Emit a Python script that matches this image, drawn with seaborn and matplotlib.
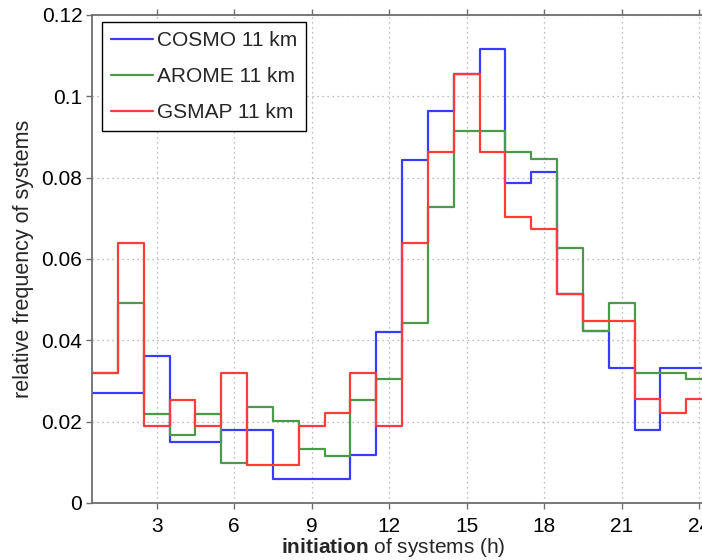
import numpy as np
import pandas as pd
import seaborn as sns
import matplotlib.pyplot as plt
from matplotlib.lines import Line2D

# Hour of initiation (bin centres, 1 h bins)
hours = np.arange(1, 25)

# Relative frequency of initiated systems per hour
cosmo = [0.0271, 0.0271, 0.0361, 0.0149, 0.0149, 0.0179, 0.0179, 0.0060,
         0.0060, 0.0060, 0.0118, 0.0421, 0.0843, 0.0965, 0.1056, 0.1116,
         0.0786, 0.0813, 0.0513, 0.0423, 0.0331, 0.0179, 0.0331, 0.0331]
arome = [0.0319, 0.0491, 0.0219, 0.0167, 0.0219, 0.0099, 0.0235, 0.0202,
         0.0134, 0.0116, 0.0253, 0.0304, 0.0442, 0.0729, 0.0915, 0.0915,
         0.0864, 0.0847, 0.0626, 0.0423, 0.0491, 0.0320, 0.0320, 0.0304]
gsmap = [0.0319, 0.0639, 0.0190, 0.0254, 0.0190, 0.0319, 0.0093, 0.0093,
         0.0190, 0.0222, 0.0319, 0.0190, 0.0640, 0.0864, 0.1056, 0.0864,
         0.0704, 0.0673, 0.0513, 0.0448, 0.0448, 0.0255, 0.0222, 0.0255]

labels = ["COSMO 11 km", "AROME 11 km", "GSMAP 11 km"]
colors = ["#3b3bff", "#4a9a4a", "#ff3b3b"]

xticks = [3, 6, 9, 12, 15, 18, 21, 24]
yticks = [0, 0.02, 0.04, 0.06, 0.08, 0.1, 0.12]
ytick_labels = ["0", "0.02", "0.04", "0.06", "0.08", "0.1", "0.12"]

sns.set_theme(style="white")
plt.rcParams["font.family"] = ["Liberation Sans", "DejaVu Sans"]
plt.rcParams["mathtext.fontset"] = "custom"
plt.rcParams["mathtext.rm"] = "Liberation Sans"
plt.rcParams["mathtext.bf"] = "Liberation Sans:bold"

fig = plt.figure(figsize=(7.02, 5.6), dpi=100)
ax = fig.add_axes([92 / 702, 1 - 503 / 560, 620 / 702, 488 / 560])

edges = [h - 0.5 for h in hours] + [hours[-1] + 0.5]
for vals, col in zip([cosmo, arome, gsmap], colors):
    df = pd.DataFrame({"hour": hours, "freq": vals})
    sns.histplot(data=df, x="hour", weights="freq", bins=edges,
                 element="step", fill=False, color=col, linewidth=1.6, ax=ax)

ax.set_xlim(0.5, 24.5)
ax.set_ylim(0, 0.12)
ax.set_xticks(xticks)
ax.set_xticklabels([str(t) for t in xticks])
ax.set_yticks(yticks)
ax.set_yticklabels(ytick_labels)

ax.grid(True, linestyle=(0, (1, 3)), color="#a8a8a8", linewidth=0.9)
ax.set_axisbelow(True)

for side in ["left", "bottom", "top"]:
    ax.spines[side].set_visible(True)
    ax.spines[side].set_color("#6e6e6e")
    ax.spines[side].set_linewidth(1.3)
ax.spines["right"].set_visible(False)

ax.tick_params(axis="both", direction="out", length=4, width=1,
               color="#6e6e6e", labelsize=15, labelcolor="black")
ax.tick_params(axis="x", top=True, bottom=True, pad=6)
ax.tick_params(axis="y", left=True, pad=3)

ax.set_ylabel("relative frequency of systems", fontsize=15.5, labelpad=5)
ax.set_xlabel(r"$\bf{initiation}$ of systems (h)", fontsize=15, labelpad=0)
ax.xaxis.set_label_coords(0.486, -0.068)

handles = [Line2D([], [], color=c, linewidth=1.6) for c in colors]
leg = ax.legend(handles, labels, loc="upper left",
                bbox_to_anchor=(101.5 / 702, 1 - 21.5 / 560),
                bbox_transform=fig.transFigure, borderaxespad=0,
                fontsize=15, frameon=True, fancybox=False,
                handlelength=2.0, handletextpad=0.2, labelspacing=0.82,
                borderpad=0.45)
leg.get_frame().set_edgecolor("black")
leg.get_frame().set_linewidth(1.0)
leg.get_frame().set_facecolor("white")
leg.get_frame().set_alpha(1)

fig.savefig("out.png", dpi=100)
